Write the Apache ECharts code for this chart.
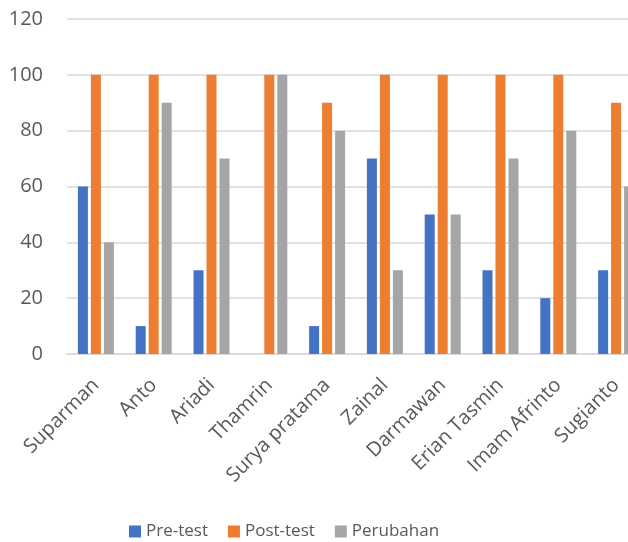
<!DOCTYPE html>
<html><head><meta charset="utf-8">
<script src="https://cdn.jsdelivr.net/npm/echarts@6/dist/echarts.min.js"></script>
<style>html,body{margin:0;padding:0;background:#fff}#c{width:628px;height:542px}</style>
</head><body><div id="c"></div>
<script>
const categories = ["Suparman","Anto","Ariadi","Thamrin","Surya pratama","Zainal","Darmawan","Erian Tasmin","Imam Afrinto","Sugianto"];
const preTest = [60,10,30,0,10,70,50,30,20,30];
const postTest = [100,100,100,100,90,100,100,100,100,90];
const perubahan = [40,90,70,100,80,30,50,70,80,60];
const seriesNames = ["Pre-test","Post-test","Perubahan"];

const font = "Open Sans";
const chart = echarts.init(document.getElementById('c'));
const mk = (name, data, color) => ({
  name, type: 'bar', data, barWidth: 10, barGap: '30%',
  itemStyle: { color }
});
chart.setOption({
  animation: false,
  textStyle: { fontFamily: font },
  grid: { left: 67, top: 19, right: -17, height: 335, containLabel: false, outerBoundsMode: 'none' },
  legend: {
    top: 518, left: 124, itemWidth: 12, itemHeight: 12, itemGap: 20,
    icon: 'rect',
    textStyle: { fontFamily: font, fontSize: 17, color: '#595959' },
    data: seriesNames
  },
  xAxis: {
    type: 'category', data: categories,
    axisLine: { lineStyle: { color: '#D9D9D9', width: 1.5 } },
    axisTick: { show: false },
    axisLabel: { rotate: 45, fontFamily: font, fontSize: 20, color: '#595959', margin: 28, interval: 0 }
  },
  yAxis: {
    type: 'value', min: 0, max: 120, interval: 20,
    axisLine: { show: false }, axisTick: { show: false },
    splitLine: { lineStyle: { color: '#D9D9D9', width: 1.5 } },
    axisLabel: { fontFamily: font, fontSize: 20, color: '#595959', margin: 24 }
  },
  series: [
    mk(seriesNames[0], preTest, '#4472C4'),
    mk(seriesNames[1], postTest, '#ED7D31'),
    mk(seriesNames[2], perubahan, '#A5A5A5')
  ]
});
</script></body></html>
